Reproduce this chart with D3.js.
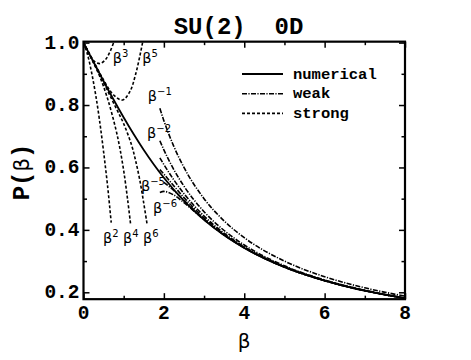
<!DOCTYPE html>
<html><head><meta charset="utf-8">
<script src="https://cdn.jsdelivr.net/npm/d3@7"></script>
<style>body{margin:0;background:#fff}svg{display:block}</style>
</head><body><svg id="c" width="471" height="360"></svg>
<script>
// ---- data ----
const xTicks = [0, 2, 4, 6, 8];
const xMinor = [1, 3, 5, 7];
const yTicks = [0.2, 0.4, 0.6, 0.8, 1.0];
const yMinor = [0.3, 0.5, 0.7, 0.9];

// numerical
const numBeta = [0, 0.25, 0.5, 0.75, 1, 1.25, 1.5, 1.75, 2, 2.5, 3, 3.5, 4, 4.5, 5, 5.5, 6, 6.5, 7, 7.5, 8];
const numP    = [1, 0.9377, 0.8763, 0.8168, 0.7599, 0.7061, 0.6559, 0.6095, 0.5668, 0.4928, 0.4321, 0.3825, 0.3420, 0.3085, 0.2807, 0.2572, 0.2373, 0.2201, 0.2053, 0.1922, 0.1807];

// weak coupling truncations
const weakBeta = [1.9, 2, 2.25, 2.5, 3, 3.5, 4, 5, 6, 7, 8];
const weakM1 = [0.7895, 0.7500, 0.6667, 0.6000, 0.5000, 0.4286, 0.3750, 0.3000, 0.2500, 0.2143, 0.1875];
const weakM2 = [0.6856, 0.6563, 0.5926, 0.5400, 0.4583, 0.3980, 0.3516, 0.2850, 0.2396, 0.2066, 0.1816];
const weakM3 = [0.6309, 0.6094, 0.5597, 0.5160, 0.4444, 0.3892, 0.3457, 0.2820, 0.2378, 0.2055, 0.1809];
const weakM4 = [0.5931, 0.5786, 0.5405, 0.5034, 0.4384, 0.3859, 0.3438, 0.2812, 0.2375, 0.2053, 0.1808];
const weakM5 = [null, 0.5523, 0.5258, 0.4948, 0.4349, 0.3843, 0.3430, 0.2809, 0.2374, 0.2053, 0.1808];
const weakM6 = [0.5196, 0.5233, 0.5115, 0.4872, 0.4324, 0.3833, 0.3425, 0.2808, 0.2373, 0.2052, 0.1808];

// strong coupling truncations
const s2Beta = [0, 0.1, 0.2, 0.3, 0.4, 0.5, 0.6, 0.69];
const s2P    = [1, 0.962, 0.905, 0.835, 0.750, 0.650, 0.540, 0.423];
const s3Beta = [0, 0.1, 0.2, 0.3, 0.42, 0.55, 0.65, 0.75];
const s3P    = [1, 0.972, 0.951, 0.937, 0.933, 0.946, 0.968, 1.0];
const s4Beta = [0, 0.2, 0.4, 0.6, 0.8, 0.9, 1.0, 1.1, 1.17];
const s4P    = [1, 0.948, 0.893, 0.820, 0.725, 0.665, 0.590, 0.495, 0.420];
const s5Beta = [0, 0.25, 0.5, 0.75, 0.97, 1.15, 1.3, 1.47];
const s5P    = [1, 0.940, 0.880, 0.832, 0.816, 0.842, 0.900, 1.0];
const s6Beta = [0, 0.4, 0.8, 1.0, 1.2, 1.3, 1.4, 1.5, 1.58];
const s6P    = [1, 0.898, 0.793, 0.740, 0.670, 0.620, 0.560, 0.485, 0.420];

// curve annotations
const annBeta = [0.73, 1.46, 1.60, 1.58, 1.43, 1.73, 0.485, 0.98, 1.48];
const annP    = [0.935, 0.935, 0.813, 0.694, 0.524, 0.454, 0.358, 0.358, 0.358];
const annExp  = ["3", "5", "\u22121", "\u22122", "\u22125", "\u22126", "2", "4", "6"];

const legendLabels = ["numerical", "weak", "strong"];

// ---- drawing ----
const svg = d3.select("#c");
const x = d3.scaleLinear().domain([0, 8]).range([83.5, 405]);
const y = d3.scaleLinear().domain([0.2, 1.0]).range([292.3, 42.6]);
const yLo = 0.178, yHi = 1.003;
const mono = "'Liberation Mono','Courier New',monospace";
const sans = "'DejaVu Sans','Liberation Sans',sans-serif";

const styles = {
  num:    {w: 1.8, dash: null},
  weak:   {w: 1.6, dash: "5,1.4,1.2,1.4"},
  strong: {w: 1.6, dash: "3,2"}
};

const line = d3.line().defined(d => d[1] != null).x(d => x(d[0])).y(d => y(d[1])).curve(d3.curveMonotoneX);
const lineCR = d3.line().x(d => x(d[0])).y(d => y(d[1])).curve(d3.curveCatmullRom.alpha(0.5));

const plot = svg.append("g");
svg.append("clipPath").attr("id", "pc").append("rect")
  .attr("x", x(0)).attr("y", y(yHi)).attr("width", x(8) - x(0)).attr("height", y(yLo) - y(yHi));
plot.attr("clip-path", "url(#pc)");

function draw(bs, ps, st, gen) {
  plot.append("path").datum(bs.map((b, i) => [b, ps[i]]))
    .attr("d", gen || line).attr("fill", "none").attr("stroke", "#000")
    .attr("stroke-width", st.w).attr("stroke-dasharray", st.dash);
}
draw(numBeta, numP, styles.num);
[weakM1, weakM2, weakM3, weakM4, weakM5, weakM6].forEach(a => draw(weakBeta, a, styles.weak));
draw(s2Beta, s2P, styles.strong, lineCR);
draw(s3Beta, s3P, styles.strong, lineCR);
draw(s4Beta, s4P, styles.strong, lineCR);
draw(s5Beta, s5P, styles.strong, lineCR);
draw(s6Beta, s6P, styles.strong, lineCR);

// frame
svg.append("rect").attr("x", x(0)).attr("y", y(yHi)).attr("width", x(8) - x(0)).attr("height", y(yLo) - y(yHi))
  .attr("fill", "none").attr("stroke", "#000").attr("stroke-width", 2.2);

// axes (inward ticks)
const tickStyle = g => { g.select(".domain").remove(); g.selectAll("line").attr("stroke-width", 1.5); };
svg.append("g").attr("transform", `translate(0,${y(yLo)})`)
  .call(d3.axisTop(x).tickValues(xTicks).tickSize(6).tickFormat("")).call(tickStyle);
svg.append("g").attr("transform", `translate(0,${y(yLo)})`)
  .call(d3.axisTop(x).tickValues(xMinor).tickSize(3.5).tickFormat("")).call(tickStyle);
svg.append("g").attr("transform", `translate(0,${y(yHi)})`)
  .call(d3.axisBottom(x).tickValues(xTicks).tickSize(6).tickFormat("")).call(tickStyle);
svg.append("g").attr("transform", `translate(0,${y(yHi)})`)
  .call(d3.axisBottom(x).tickValues(xMinor).tickSize(3.5).tickFormat("")).call(tickStyle);
svg.append("g").attr("transform", `translate(${x(0)},0)`)
  .call(d3.axisRight(y).tickValues(yTicks).tickSize(6).tickFormat("")).call(tickStyle);
svg.append("g").attr("transform", `translate(${x(0)},0)`)
  .call(d3.axisRight(y).tickValues(yMinor).tickSize(3.5).tickFormat("")).call(tickStyle);
svg.append("g").attr("transform", `translate(${x(8)},0)`)
  .call(d3.axisLeft(y).tickValues(yTicks).tickSize(6).tickFormat("")).call(tickStyle);
svg.append("g").attr("transform", `translate(${x(8)},0)`)
  .call(d3.axisLeft(y).tickValues(yMinor).tickSize(3.5).tickFormat("")).call(tickStyle);

// tick labels
svg.append("g").selectAll("text").data(xTicks).join("text")
  .attr("x", d => x(d)).attr("y", 318.5).attr("text-anchor", "middle")
  .attr("font-family", mono).attr("font-weight", "bold").attr("font-size", 19.5).text(d => d);
svg.append("g").selectAll("text").data(yTicks).join("text")
  .attr("x", 79.5).attr("y", d => y(d) + 6).attr("text-anchor", "end")
  .attr("font-family", mono).attr("font-weight", "bold").attr("font-size", 19.5).text(d => d.toFixed(1));

// titles
svg.append("text").attr("x", 238.5).attr("y", 33.5).attr("text-anchor", "middle")
  .attr("font-family", mono).attr("font-weight", "bold").attr("font-size", 24)
  .style("white-space", "pre").text("SU(2)  0D");
svg.append("text").attr("x", x(4)).attr("y", 348).attr("text-anchor", "middle")
  .attr("font-family", sans).attr("font-size", 20).text("\u03b2");
const yl = svg.append("text").attr("transform", "translate(29,172) rotate(-90)").attr("text-anchor", "middle")
  .attr("font-family", mono).attr("font-weight", "bold").attr("font-size", 24);
yl.append("tspan").text("P(");
yl.append("tspan").attr("font-family", sans).attr("font-weight", "normal").attr("font-size", 21).text("\u03b2");
yl.append("tspan").text(")");

// annotations
annBeta.forEach((b, i) => {
  const t = svg.append("text").attr("x", x(b)).attr("y", y(annP[i]))
    .attr("font-family", sans).attr("font-size", 14.5);
  t.append("tspan").text("\u03b2");
  t.append("tspan").attr("dy", -6).attr("font-size", 10).text(annExp[i]);
});

// legend
const lg = svg.append("g");
const lgStyles = [styles.num, styles.weak, styles.strong];
legendLabels.forEach((l, i) => {
  const yy = 74 + i * 19.7;
  lg.append("line").attr("x1", 242).attr("x2", 283).attr("y1", yy).attr("y2", yy)
    .attr("stroke", "#000").attr("stroke-width", lgStyles[i].w).attr("stroke-dasharray", lgStyles[i].dash);
  lg.append("text").attr("x", 293).attr("y", yy + 4.5).attr("font-family", mono)
    .attr("font-weight", "bold").attr("font-size", 15.5).text(l);
});
</script></body></html>
